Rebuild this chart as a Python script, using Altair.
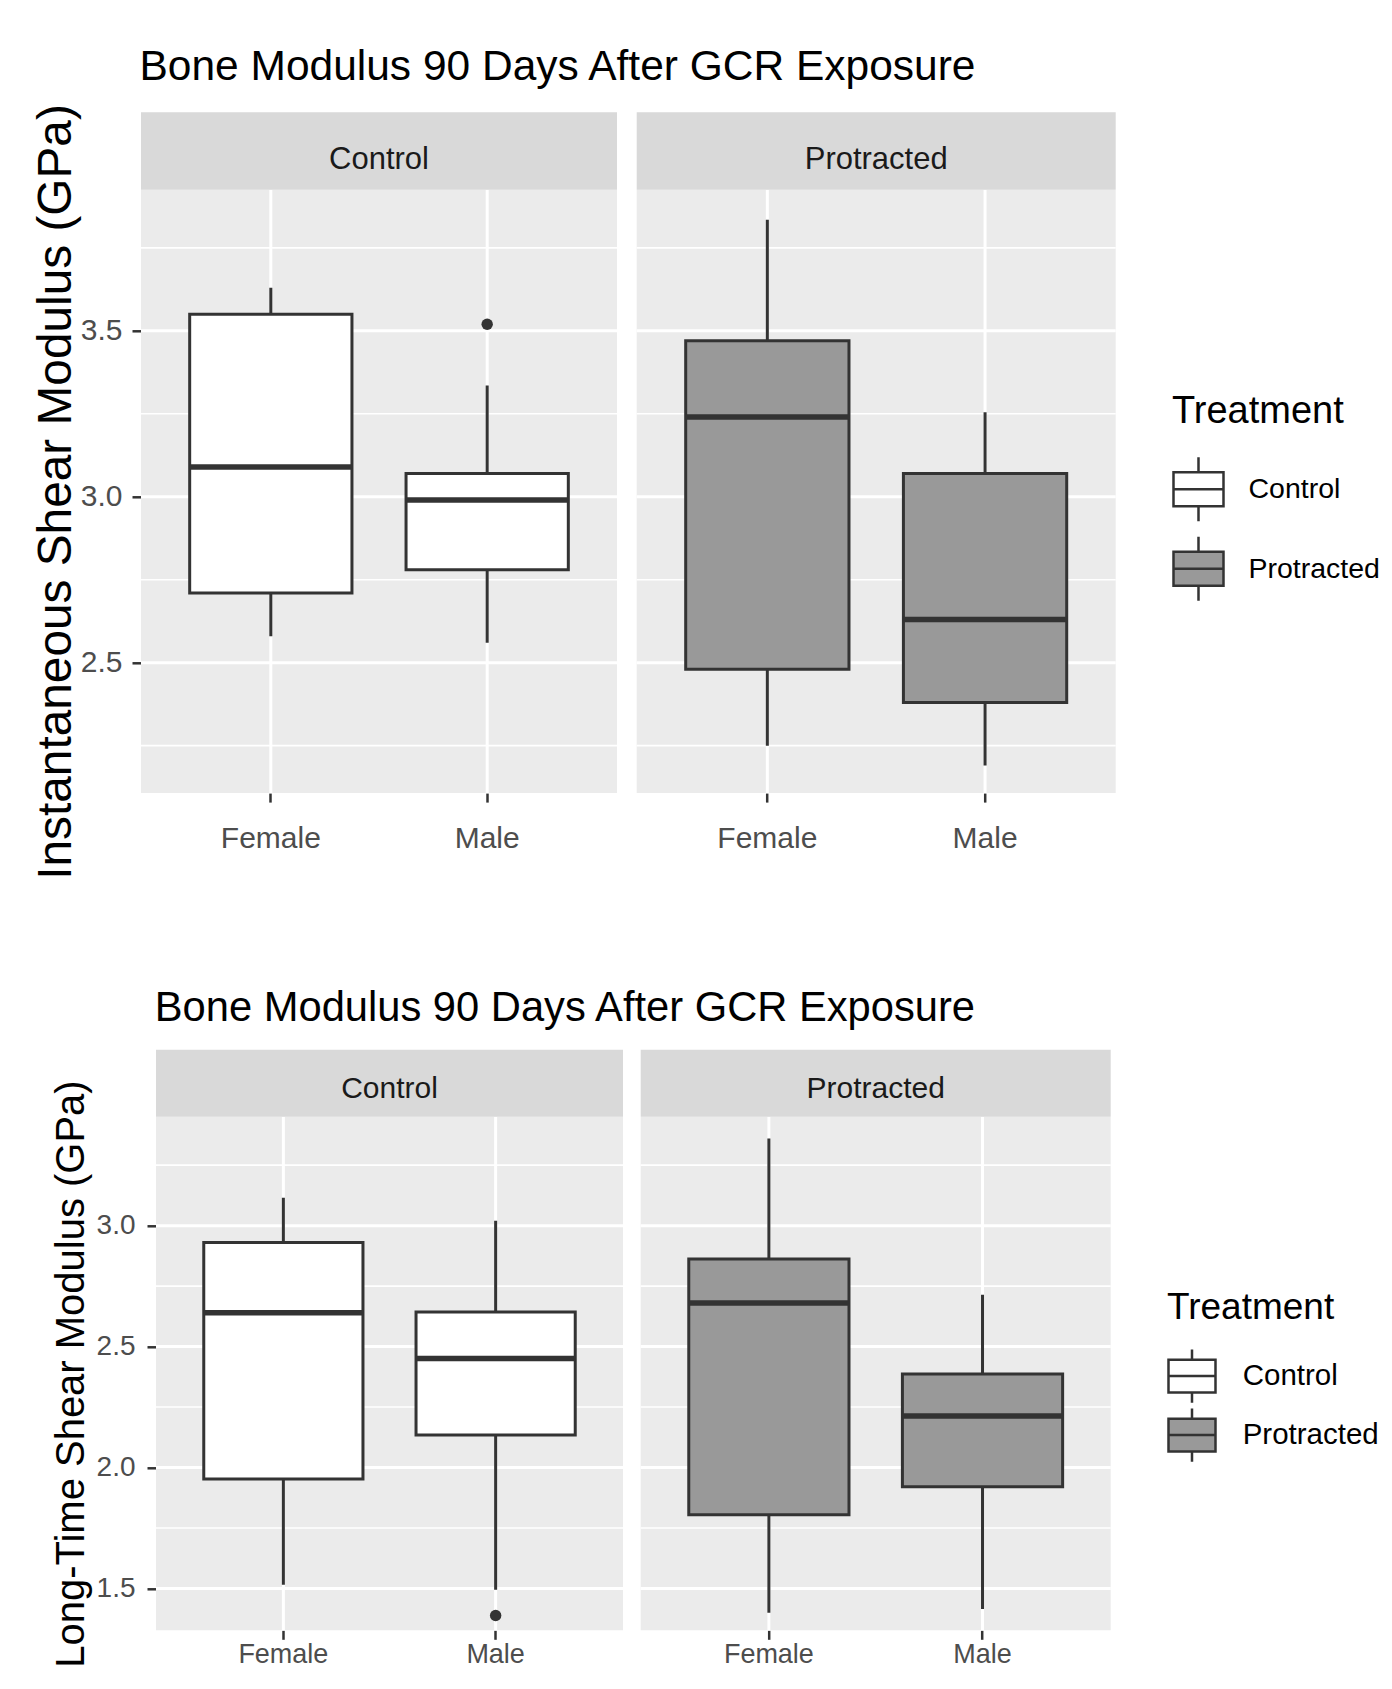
import altair as alt
import pandas as pd

FONT = "Liberation Sans"
TREATMENTS = ["Control", "Protracted"]
SEXES = ["Female", "Male"]
TITLE = "Bone Modulus 90 Days After GCR Exposure"

# groups: Control-Female, Control-Male, Protracted-Female, Protracted-Male
group_treatment = ["Control", "Control", "Protracted", "Protracted"]
group_sex = ["Female", "Male", "Female", "Male"]

# Instantaneous shear modulus (GPa)
inst_low = [2.58, 2.56, 2.25, 2.19]
inst_q1 = [2.71, 2.78, 2.48, 2.38]
inst_median = [3.09, 2.99, 3.24, 2.63]
inst_q3 = [3.55, 3.07, 3.47, 3.07]
inst_high = [3.63, 3.335, 3.835, 3.255]
inst_out_treatment = ["Control"]
inst_out_sex = ["Male"]
inst_out_value = [3.52]
inst_major = [2.5, 3.0, 3.5]
inst_minor = [2.25, 2.75, 3.25, 3.75]
inst_domain = [2.107, 3.925]

# Long-time shear modulus (GPa)
lt_low = [1.515, 1.495, 1.40, 1.415]
lt_q1 = [1.953, 2.134, 1.805, 1.92]
lt_median = [2.64, 2.451, 2.68, 2.213]
lt_q3 = [2.93, 2.643, 2.862, 2.387]
lt_high = [3.115, 3.02, 3.36, 2.714]
lt_out_treatment = ["Control"]
lt_out_sex = ["Male"]
lt_out_value = [1.388]
lt_major = [1.5, 2.0, 2.5, 3.0]
lt_minor = [1.75, 2.25, 2.75, 3.25]
lt_domain = [1.327, 3.45]

STROKE = "#333333"
PANEL_BG = "#EBEBEB"
FILLS = ["#FFFFFF", "#999999"]
GLYPH_TOP = "M-1,-0.68H1V0.68H-1Z M-1,0H1 M0,-0.68V-1.28 M0,0.68V1.28"
GLYPH_BOT = "M-1,-0.7H1V0.7H-1Z M-1,0H1 M0,-0.7V-1.13 M0,0.7V1.13"


def stats_frame(low, q1, med, q3, high):
    return pd.DataFrame({"treatment": group_treatment, "sex": group_sex,
                         "low": low, "q1": q1, "median": med, "q3": q3, "high": high})


def out_frame(t, s, v):
    return pd.DataFrame({"treatment": t, "sex": s, "value": v})


def panel(stats, outs, treatment, domain, major, minor, W, H, strip_h, sz,
          first, ytitle, legend, shift=0):
    s = stats[stats["treatment"] == treatment]
    o = outs[outs["treatment"] == treatment]
    band_px = W / 2.2 * 0.75
    xs = alt.Scale(domain=SEXES, paddingInner=0.25, paddingOuter=0.225,
                   range=[shift, shift + W])
    xax = alt.Axis(title=None, labelAngle=0, labelFont=FONT, labelFontSize=sz["tick"],
                   labelColor="#4D4D4D", labelPadding=sz["xpad"], tickColor=STROKE,
                   tickWidth=2.5, tickSize=9, domain=False, grid=False)
    ys = alt.Scale(domain=domain, nice=False, zero=False)
    if first:
        ykw = dict(title=ytitle, values=major, format=".1f", labelFont=FONT,
                   labelFontSize=sz["ytick"], labelColor="#4D4D4D",
                   labelPadding=sz["ypad"], tickColor=STROKE, tickWidth=2.5,
                   tickSize=9, domain=False, grid=False, titleFont=FONT,
                   titleFontSize=sz["ytitle"], titleFontWeight="normal",
                   titleColor="black", titlePadding=sz["ytpad"])
        if shift:
            ykw["offset"] = -shift
        yax = alt.Axis(**ykw)
    else:
        yax = None
    x = alt.X("sex:N", scale=xs, axis=xax)

    def Y(field):
        return alt.Y(field, scale=ys, axis=yax)

    one = pd.DataFrame({"label": [treatment]})
    bg = alt.Chart(one).mark_rect(color=PANEL_BG).encode(
        x=alt.value(shift), x2=alt.value(shift + W), y=alt.value(0), y2=alt.value(H))
    minor_l = alt.Chart(pd.DataFrame({"v": minor})).mark_rule(
        color="white", strokeWidth=1.6).encode(
        y=Y("v:Q"), x=alt.value(shift), x2=alt.value(shift + W))
    major_l = alt.Chart(pd.DataFrame({"v": major})).mark_rule(
        color="white", strokeWidth=3).encode(
        y=Y("v:Q"), x=alt.value(shift), x2=alt.value(shift + W))
    vgrid = alt.Chart(pd.DataFrame({"sex": SEXES})).mark_rule(
        color="white", strokeWidth=3).encode(
        x=x, y=alt.value(0), y2=alt.value(H))
    whisk = alt.Chart(s).mark_rule(color=STROKE, strokeWidth=3).encode(
        x=x, y=Y("low:Q"), y2="high:Q")
    box = alt.Chart(s).mark_bar(stroke=STROKE, strokeWidth=3, opacity=1).encode(
        x=x, y=Y("q1:Q"), y2="q3:Q",
        color=alt.Color("treatment:N",
                        scale=alt.Scale(domain=TREATMENTS, range=FILLS),
                        legend=legend))
    med = alt.Chart(s).mark_tick(color=STROKE, thickness=5.5, size=band_px,
                                 opacity=1).encode(x=x, y=Y("median:Q"))
    layers = [bg, minor_l, major_l, vgrid, whisk, box, med]
    if len(o):
        pts = alt.Chart(o).mark_circle(color=STROKE, size=130, opacity=1).encode(
            x=x, y=Y("value:Q"))
        layers.append(pts)
    strip = alt.Chart(one).mark_rect(color="#D9D9D9").encode(
        x=alt.value(shift), x2=alt.value(shift + W), y=alt.value(-strip_h),
        y2=alt.value(0))
    strip_t = alt.Chart(one).mark_text(
        font=FONT, fontSize=sz["strip"], color="#1A1A1A", baseline="middle",
        align="center").encode(x=alt.value(shift + W / 2),
                               y=alt.value(-strip_h / 2 + sz["stripdy"]),
                               text="label:N")
    layers += [strip, strip_t]
    return alt.layer(*layers).properties(width=W + shift, height=H)


def legend_def(sz, lx, ly, glyph, gsize, row_pad, label_off):
    return alt.Legend(title="Treatment", orient="none", legendX=lx, legendY=ly,
                      titleFont=FONT, titleFontSize=sz["ltitle"],
                      titleFontWeight="normal", titleColor="black",
                      titlePadding=sz["ltpad"],
                      labelFont=FONT, labelFontSize=sz["llabel"], labelColor="black",
                      symbolType=glyph, symbolSize=gsize, symbolStrokeColor=STROKE,
                      symbolStrokeWidth=2.5, symbolOpacity=1, rowPadding=row_pad,
                      labelOffset=label_off)


def block(stats, outs, domain, major, minor, Wc, Wp, H, strip_h, sz, ytitle,
          legend, title_dx, title_off, spacing, shift=0):
    pc = panel(stats, outs, "Control", domain, major, minor, Wc, H, strip_h, sz,
               True, ytitle, legend, shift)
    pp = panel(stats, outs, "Protracted", domain, major, minor, Wp, H, strip_h, sz,
               False, None, legend)
    return alt.hconcat(pc, pp, spacing=spacing).properties(
        title=alt.Title(TITLE, anchor="start", font=FONT, fontSize=sz["title"],
                        fontWeight="normal", color="black", dx=title_dx,
                        offset=title_off))


inst_stats = stats_frame(inst_low, inst_q1, inst_median, inst_q3, inst_high)
inst_outs = out_frame(inst_out_treatment, inst_out_sex, inst_out_value)
lt_stats = stats_frame(lt_low, lt_q1, lt_median, lt_q3, lt_high)
lt_outs = out_frame(lt_out_treatment, lt_out_sex, lt_out_value)

sz_top = dict(tick=30, ytick=30, xpad=21, ypad=10, ytitle=47.8, ytpad=0, strip=31,
              stripdy=9, title=42.5, ltitle=38, ltpad=32, llabel=28.5)
sz_bot = dict(tick=27, ytick=28, xpad=2, ypad=12, ytitle=40, ytpad=5, strip=30,
              stripdy=6, title=41.7, ltitle=37, ltpad=23.6, llabel=29.5)

top = block(inst_stats, inst_outs, inst_domain, inst_major, inst_minor,
            476, 479, 603.3, 77.6, sz_top, "Instantaneous Shear Modulus (GPa)",
            legend_def(sz_top, 1031, 203, GLYPH_TOP, 2500, 4.5, 23.5), 107.2, 14.9,
            15.7)
bottom = block(lt_stats, lt_outs, lt_domain, lt_major, lt_minor,
               467, 470, 513.5, 67, sz_bot, "Long-Time Shear Modulus (GPa)",
               legend_def(sz_bot, 1026, 173.7, GLYPH_BOT, 2209, -5, 25.7), 103.7, 20.3,
               13.7, shift=15)

chart = alt.concat(top, bottom, columns=1, spacing=108).resolve_scale(
    color="independent").configure_view(strokeWidth=0).properties(
    padding={"left": 24, "top": 37.8, "right": 0, "bottom": 0},
    background="white")

chart.save("out.html", embed_options={"renderer": "svg", "actions": False})
